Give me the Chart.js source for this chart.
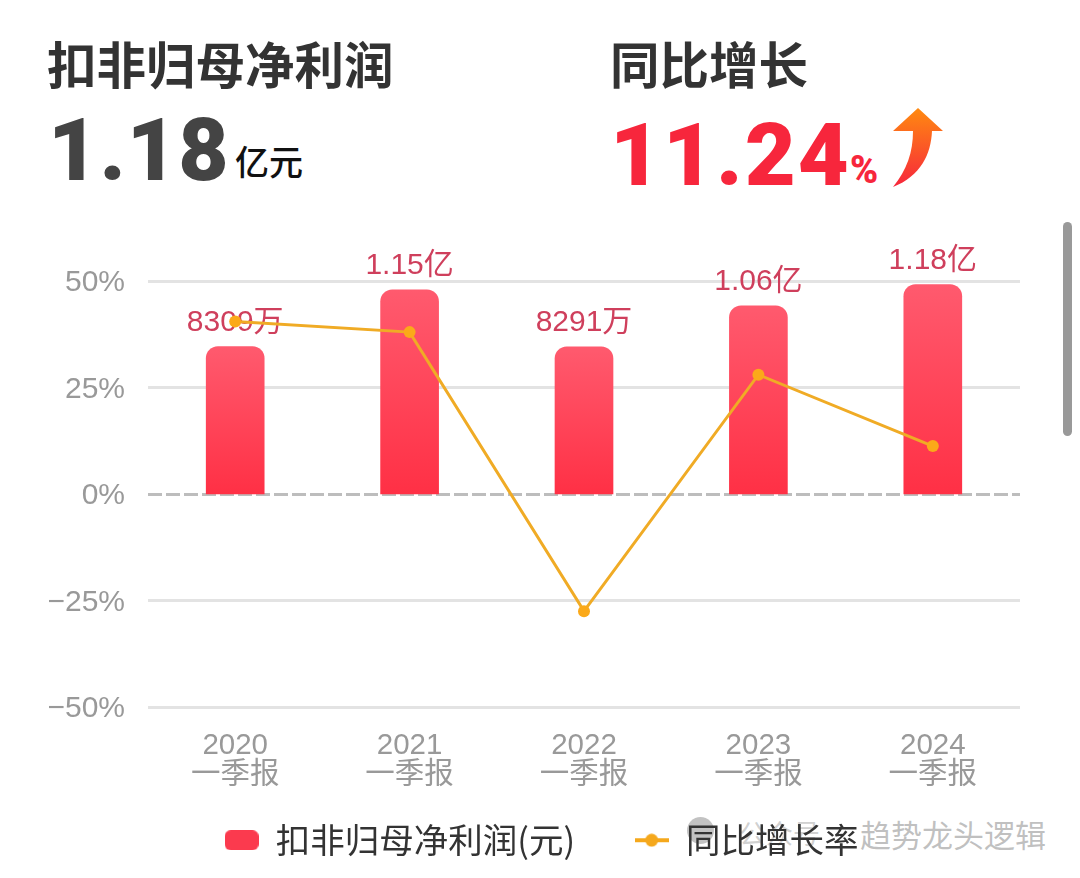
<!DOCTYPE html>
<html lang="zh">
<head>
<meta charset="utf-8">
<title>扣非归母净利润</title>
<script src="https://cdn.jsdelivr.net/npm/chart.js@4"></script>
<style>
  html, body { margin: 0; background: #fff; }
  body { width: 1080px; height: 878px; position: relative; overflow: hidden; font-family: "Noto Sans CJK SC", sans-serif; }
  .abs { position: absolute; white-space: nowrap; line-height: 1; }
  #myChart { position: absolute; left: 0; top: 0; }
  .head { font-size: 49.5px; font-weight: 700; color: #333; }
  .big { font-family: Roboto, sans-serif; font-weight: 900; }
</style>
</head>
<body>
<div class="abs" style="left:687px;top:817px;width:27px;height:27px;border-radius:50%;background:rgba(120,120,120,.45)"></div>
<div class="abs" style="left:739px;top:819px;font-size:27px;color:rgba(150,150,150,.45)">公众号</div>
<div class="abs" style="left:860px;top:818px;font-size:31px;color:rgba(150,150,150,.6)">趋势龙头逻辑</div>
<div class="abs head" style="left:47px;top:38px">扣非归母净利润</div>
<div class="abs head" style="left:610px;top:38px">同比增长</div>
<div class="abs big" style="left:48px;top:107px;font-size:87px;color:#444;letter-spacing:1px">1.18</div>
<div class="abs" style="left:235px;top:144px;font-size:34px;font-weight:500;color:#111">亿元</div>
<div class="abs big" style="left:610px;top:111px;font-size:88px;color:#f7263c;letter-spacing:2px">11.24</div>
<div class="abs big" style="left:850px;top:151px;font-size:38px;color:#f7263c">%</div>
<svg class="abs" style="left:890px;top:106px" width="56" height="84" viewBox="0 0 56 84">
  <defs><linearGradient id="arrowFill" x1="0" y1="0" x2="0" y2="1">
    <stop offset="0" stop-color="#ff8a10"/><stop offset="1" stop-color="#f7263c"/>
  </linearGradient></defs>
  <path d="M28 2 L53 25 L42 25 C41 48 31 70 3 81 C17 64 23 46 23 25 L3 25 Z" fill="url(#arrowFill)"/>
</svg>
<canvas id="myChart" width="1080" height="878"></canvas>
<div class="abs" style="left:1063px;top:222px;width:9px;height:214px;border-radius:5px;background:#999"></div>
<script>
  const years = ['2020', '2021', '2022', '2023', '2024']
  const period = '一季报'
  const profit = [0.8309, 1.15, 0.8291, 1.06, 1.18]
  const profitLabels = ['8309万', '1.15亿', '8291万', '1.06亿', '1.18亿']
  const growth = [40.5, 38, -27.5, 28, 11.24]
  const yTicks = [-50, -25, 0, 25, 50]

  const cjk = '"Noto Sans CJK SC", sans-serif'
  const latin = '"Liberation Sans", ' + cjk
  const ctx = document.getElementById('myChart')

  function barGradient(c) {
    const chart = c.chart
    if (!chart.chartArea || c.raw === undefined) return '#ff3a4e'
    const s = chart.scales.y1
    const g = chart.ctx.createLinearGradient(0, s.getPixelForValue(c.raw), 0, s.getPixelForValue(0))
    g.addColorStop(0, '#ff5a6e')
    g.addColorStop(1, '#ff3045')
    return g
  }

  // legend swatches
  function swatchBar() {
    const cv = document.createElement('canvas')
    cv.width = 34
    cv.height = 20
    const c = cv.getContext('2d')
    c.fillStyle = '#fb3a4e'
    c.beginPath()
    c.roundRect(0, 0, 34, 20, 6)
    c.fill()
    return cv
  }
  function swatchLine() {
    const cv = document.createElement('canvas')
    cv.width = 34
    cv.height = 14
    const c = cv.getContext('2d')
    c.fillStyle = '#f5a81c'
    c.fillRect(0, 5, 34, 4)
    c.beginPath()
    c.arc(17, 7, 6.5, 0, Math.PI * 2)
    c.fill()
    return cv
  }

  const barLabels = {
    id: 'barLabels',
    beforeDatasetsDraw(chart) {
      const c = chart.ctx
      c.save()
      c.font = '30px ' + latin
      c.fillStyle = '#cf3f5c'
      c.textAlign = 'center'
      c.textBaseline = 'bottom'
      chart.getDatasetMeta(0).data.forEach((bar, i) => {
        c.fillText(profitLabels[i], bar.x, bar.y - 9)
      })
      c.restore()
    }
  }

  // label padding also sets the gap between legend items, so its box is capped
  // with maxHeight for the layout and moved back afterwards
  const legendPlace = {
    id: 'legendPlace',
    afterLayout(chart) {
      chart.legend.top = 763.5
      chart.legend.left = 63
    }
  }

  new Chart(ctx, {
    data: {
      labels: years.map(y => [y, period]),
      datasets: [{
        type: 'bar',
        label: '扣非归母净利润(元)',
        data: profit,
        yAxisID: 'y1',
        order: 2,
        barThickness: 58,
        backgroundColor: barGradient,
        borderRadius: { topLeft: 12, topRight: 12 },
        borderSkipped: false
      },

      {
        type: 'line',
        label: '同比增长率',
        data: growth,
        yAxisID: 'y',
        order: 1,
        borderColor: '#f0ab25',
        backgroundColor: '#fba919',
        borderWidth: 3,
        tension: 0,
        pointRadius: 6,
        pointBackgroundColor: '#fba919',
        pointBorderWidth: 0
      }
      ]
    },
    options: {
      responsive: false,
      animation: false,
      layout: { padding: { top: 281, right: 60 } },
      plugins: {
        tooltip: { enabled: false },
        legend: {
          position: 'bottom',
          maxHeight: 63,
          labels: {
            color: '#333',
            font: { family: cjk, size: 34.5 },
            usePointStyle: true,
            pointStyleWidth: 34,
            padding: 59.5,
            generateLabels: chart => chart.data.datasets.map((d, i) => ({
              text: d.label,
              datasetIndex: i,
              fontColor: '#333',
              pointStyle: i === 0 ? swatchBar() : swatchLine()
            }))
          }
        }
      },
      scales: {
        x: {
          afterFit: s => { s.height = 108 },
          grid: { display: false },
          border: { display: false },
          ticks: {
            color: '#999',
            font: { family: latin, size: 29.5, lineHeight: 1 },
            padding: 16,
            maxRotation: 0
          }
        },
        y: {
          min: -50,
          max: 50,
          afterFit: s => { s.width = 148 },
          afterBuildTicks: s => { s.ticks = yTicks.map(v => ({ value: v })) },
          grid: {
            drawTicks: false,
            lineWidth: 3,
            color: c => c.tick.value === 0 ? '#bdbdbd' : '#e3e3e3'
          },
          border: {
            display: false,
            dash: c => c.tick && c.tick.value === 0 ? [14, 4] : []
          },
          ticks: {
            color: '#999',
            font: { family: latin, size: 30 },
            padding: 23,
            labelOffset: 2,
            callback: v => (v < 0 ? '−' + (-v) : v) + '%'
          }
        },
        y1: {
          display: false,
          min: -1.2,
          max: 1.2
        }
      }
    },
    plugins: [barLabels, legendPlace]
  })
</script>
</body>
</html>
